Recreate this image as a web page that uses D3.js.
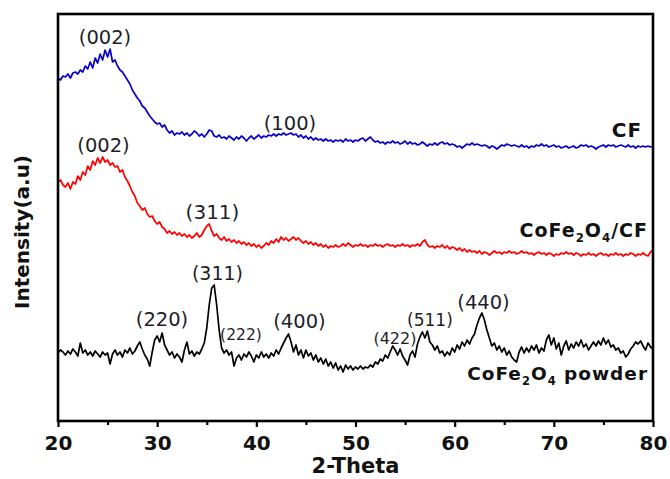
<!DOCTYPE html>
<html>
<head>
<meta charset="utf-8">
<script src="https://cdn.jsdelivr.net/npm/d3@7/dist/d3.min.js"></script>
<style>
  body { margin: 0; background: #fff; }
  svg { display: block; }
</style>
</head>
<body>
<div id="chart"></div>
<script>
// scan grid, 2-theta in degrees (step 0.25)
var twoTheta = d3.range(0, 241).map(function(i){ return 20 + i * 0.25; });

// CF (blue), intensity in a.u.
var cfValues = [
  343,341,345,344,347,343,348,349, 347,351,349,355,352,359,353,363,
  358,367,361,371,364,372,359,361, 355,351,349,345,341,337,331,327,
  323,320,315,313,309,305,302,299, 297,298,294,296,291,288,290,286,
  288,287,289,286,288,285,287,290, 288,285,287,284,287,291,290,285,
  284,286,283,284,282,285,283,281, 284,282,285,283,280,283,285,282,
  284,286,283,285,284,286,285,287, 285,287,286,288,286,287,288,286,
  287,284,286,283,285,282,284,281, 283,281,282,280,282,280,281,279,
  281,280,281,279,282,280,281,279, 281,280,282,283,280,282,284,281,
  279,280,278,279,277,279,278,280, 278,279,277,278,280,277,279,277,
  278,276,277,279,277,275,277,276, 278,276,278,279,277,278,276,277,
  276,274,275,273,275,277,276,278, 276,277,276,275,276,275,273,275,
  274,272,274,276,275,277,276,275, 276,275,274,276,274,275,273,275,
  274,276,275,277,275,276,274,275, 276,274,275,273,274,275,273,274,
  275,273,274,276,275,276,274,275, 274,272,274,275,276,274,276,275,
  276,274,275,276,275,274,276,274, 275,273,275,274,275,274,275,274,
  275
];

// CoFe2O4/CF (red)
var compositeValues = [
  239,241,236,234,238,232,239,237, 245,241,249,246,255,251,260,256,
  263,258,264,259,261,256,258,254, 255,249,251,244,240,235,229,225,
  218,215,211,213,207,204,205,200, 197,199,194,192,188,190,187,189,
  186,188,185,187,184,186,183,185, 188,184,186,191,195,197,190,185,
  187,183,181,184,180,182,179,181, 178,180,177,179,176,178,175,177,
  174,176,173,175,178,176,180,178, 182,179,184,181,183,180,182,184,
  181,183,180,178,180,177,179,176, 178,175,177,174,176,173,175,174,
  176,174,175,177,175,178,176,174, 176,175,177,175,176,174,176,175,
  177,175,176,174,176,177,175,176, 174,176,175,177,175,176,174,176,
  175,177,175,179,181,176,174,175, 173,175,174,176,173,175,172,174,
  173,171,173,170,172,169,171,169, 170,168,170,167,169,168,166,168,
  170,168,169,167,169,168,170,168, 169,167,168,170,168,169,167,168,
  166,168,169,167,168,166,168,167, 165,167,166,168,167,169,167,168,
  166,168,167,165,167,166,168,166, 167,165,167,168,166,167,165,167,
  166,168,166,167,165,167,166,168, 167,165,167,166,168,166,165,169,
  171
];

// CoFe2O4 powder (black)
var powderValues = [
  68,71,69,66,70,67,72,69, 65,78,68,71,66,69,65,70,
  67,64,69,66,68,57,67,71, 66,69,64,71,68,73,67,70,
  75,79,72,66,62,55,69,81, 85,79,88,76,71,66,69,63,
  67,64,59,71,79,67,70,65, 69,67,72,78,93,116,133,136,
  116,91,73,68,71,66,69,55, 63,66,61,67,64,69,65,59,
  66,63,69,64,67,63,68,65, 71,67,73,78,83,87,79,69,
  76,66,71,63,71,65,68,61, 66,59,63,57,62,55,59,53,
  58,51,55,49,56,52,55,51, 54,52,55,52,54,53,56,54,
  59,57,62,60,66,63,69,75, 71,66,72,65,61,56,66,70,
  64,77,84,89,83,90,79,76, 71,75,68,70,65,69,66,73,
  69,76,72,79,75,81,77,83, 87,96,103,108,101,91,83,75,
  78,71,75,69,73,66,70,64, 61,59,69,74,68,73,69,75,
  71,76,68,73,70,81,86,76, 83,72,78,66,75,80,71,77,
  73,79,75,81,74,77,71,75, 79,75,80,76,83,77,81,74,
  76,71,73,68,70,64,67,72, 75,79,77,80,75,71,78,74,
  72
];

var seriesNames = ["CF", "CoFe2O4/CF", "CoFe2O4 powder"];
var seriesColors = ["#0a00cc", "#ff0000", "#000000"];
var seriesValues = [cfValues, compositeValues, powderValues];

var majorTicks = [20, 30, 40, 50, 60, 70, 80];
var minorTicks = [25, 35, 45, 55, 65, 75];

// peak labels: text, 2-theta of label centre, intensity of baseline, font size
var peakText  = ["(002)","(100)","(002)","(311)","(311)","(220)","(222)","(400)","(422)","(511)","(440)"];
var peakTheta = [24.74, 43.39, 24.59, 35.58, 36.08, 30.49, 38.45, 44.35, 53.98, 57.51, 62.91];
var peakLevel = [377, 291, 269, 202, 141, 95, 81, 93, 77, 95, 112];
var peakSize  = [19.5, 19.5, 19.5, 20, 19, 19.5, 15.5, 19.5, 16, 17, 19.5];

// sample names, drawn at the right end of each curve (sub = subscript)
var sampleParts = [
  [["CF", false]],
  [["CoFe", false], ["2", true], ["O", false], ["4", true], ["/CF", false]],
  [["CoFe", false], ["2", true], ["O", false], ["4", true], [" powder", false]]
];
var sampleTheta = [78.9, 79.5, 79.5];
var sampleLevel = [284, 184, 41];
var sampleSize  = [20, 19, 18.5];

var width = 670, height = 479;
var margin = {top: 14, right: 17, bottom: 58, left: 58};

var x = d3.scaleLinear().domain([20, 80]).range([margin.left, width - margin.right]);
var y = d3.scaleLinear().domain([0, 407]).range([height - margin.bottom, margin.top]);

var svg = d3.select("#chart")
  .append("svg")
    .attr("width", width)
    .attr("height", height);

// curves
var line = d3.line()
  .x(function(d){ return x(d[0]); })
  .y(function(d){ return y(d[1]); });

seriesValues.forEach(function(vals, i){
  var pts = twoTheta.map(function(t, j){ return [t, vals[j]]; });
  svg.append("path")
    .datum(pts)
    .attr("class", "curve")
    .attr("fill", "none")
    .attr("stroke", seriesColors[i])
    .attr("stroke-width", 1.7)
    .attr("stroke-linejoin", "round")
    .attr("d", line);
});

// peak labels
peakText.forEach(function(t, i){
  svg.append("text")
    .attr("x", x(peakTheta[i]))
    .attr("y", y(peakLevel[i]))
    .attr("text-anchor", "middle")
    .style("font-family", "'DejaVu Sans', sans-serif")
    .style("font-size", peakSize[i] + "px")
    .style("fill", "#1e1e2a")
    .text(t);
});

// sample names
sampleParts.forEach(function(parts, i){
  var label = svg.append("text")
    .attr("x", x(sampleTheta[i]))
    .attr("y", y(sampleLevel[i]))
    .attr("text-anchor", "end")
    .style("font-family", "'DejaVu Sans', sans-serif")
    .style("font-weight", "bold")
    .style("font-size", sampleSize[i] + "px")
    .style("letter-spacing", "1px")
    .style("fill", "#111");
  var lowered = false;
  parts.forEach(function(p){
    var span = label.append("tspan").text(p[0]);
    if(p[1]){
      span.style("font-size", "0.62em").attr("dy", lowered ? 0 : 5);
      lowered = true;
    } else if(lowered){
      span.attr("dy", -5);
      lowered = false;
    }
  });
});

// axes
var xAxis = svg.append("g")
  .attr("transform", "translate(0," + (height - margin.bottom) + ")")
  .call(d3.axisBottom(x).tickValues(majorTicks).tickSize(6).tickPadding(9).tickFormat(d3.format("d")));
xAxis.select(".domain").remove();
xAxis.selectAll("line").attr("stroke", "#000").attr("stroke-width", 2.2);
xAxis.selectAll("text")
  .style("font-family", "'DejaVu Sans', sans-serif")
  .style("font-weight", "bold")
  .style("font-size", "20px")
  .style("fill", "#111");

var xMinor = svg.append("g")
  .attr("transform", "translate(0," + (height - margin.bottom) + ")")
  .call(d3.axisBottom(x).tickValues(minorTicks).tickSize(4).tickFormat(""));
xMinor.select(".domain").remove();
xMinor.selectAll("line").attr("stroke", "#000").attr("stroke-width", 2.2);

// frame
svg.append("rect")
  .attr("x", margin.left)
  .attr("y", margin.top)
  .attr("width", width - margin.left - margin.right)
  .attr("height", height - margin.top - margin.bottom)
  .attr("fill", "none")
  .attr("stroke", "#000")
  .attr("stroke-width", 2.6);

// axis titles
svg.append("text")
  .attr("x", (margin.left + width - margin.right) / 2)
  .attr("y", 473)
  .attr("text-anchor", "middle")
  .style("font-family", "'DejaVu Sans', sans-serif")
  .style("font-weight", "bold")
  .style("font-size", "21px")
  .style("fill", "#111")
  .text("2-Theta");

svg.append("text")
  .attr("transform", "translate(29,232) rotate(-90)")
  .attr("text-anchor", "middle")
  .style("font-family", "'DejaVu Sans', sans-serif")
  .style("font-weight", "bold")
  .style("font-size", "20px")
  .style("fill", "#111")
  .text("Intensity(a.u)");
</script>
</body>
</html>
